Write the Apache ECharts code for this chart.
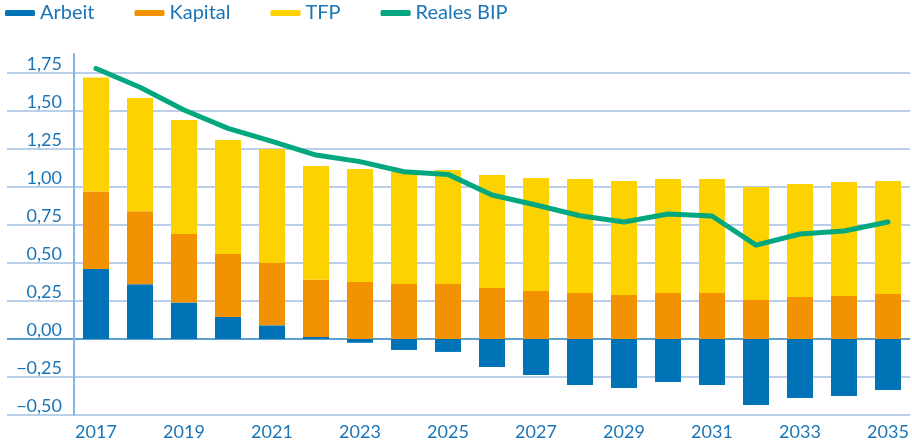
<!DOCTYPE html>
<html>
<head>
    <meta charset="utf-8">
    <script src="https://cdn.jsdelivr.net/npm/echarts@6/dist/echarts.min.js"></script>
    <style>
        html, body { margin: 0; padding: 0; background: #fff; }
        #chart { width: 912px; height: 443px; }
    </style>
</head>
<body>
<div id="chart"></div>
<script type="text/javascript">
    var years = ['2017', '2018', '2019', '2020', '2021', '2022', '2023', '2024', '2025', '2026',
                 '2027', '2028', '2029', '2030', '2031', '2032', '2033', '2034', '2035'];
    var arbeit  = [0.46, 0.36, 0.24, 0.145, 0.09, 0.013, -0.025, -0.072, -0.085, -0.184,
                   -0.237, -0.303, -0.322, -0.283, -0.303, -0.434, -0.388, -0.375, -0.336];
    var kapital = [0.51, 0.48, 0.45, 0.415, 0.41, 0.377, 0.375, 0.362, 0.362, 0.336,
                   0.316, 0.303, 0.29, 0.303, 0.303, 0.257, 0.276, 0.283, 0.296];
    var tfp     = [0.75, 0.745, 0.75, 0.75, 0.75, 0.748, 0.743, 0.737, 0.75, 0.743,
                   0.743, 0.75, 0.75, 0.75, 0.75, 0.743, 0.744, 0.75, 0.744];
    var bip     = [1.78, 1.656, 1.507, 1.386, 1.30, 1.21, 1.167, 1.10, 1.083, 0.947,
                   0.882, 0.811, 0.77, 0.822, 0.809, 0.618, 0.691, 0.711, 0.77];

    var textBlue = '#1a75b8';
    var font = 'Lato';
    var gridC = '#bccfea';
    // one colour per split line, bottom to top; the last one is the hidden top edge
    var splitColors = [gridC, gridC, '#5f9fd0', gridC, gridC, gridC, gridC, gridC, gridC, gridC, 'rgba(0,0,0,0)'];

    var fmt = function (v) {
        if (v > 1.8) return '';
        var s = Math.abs(v).toFixed(2).replace('.', ',');
        return (v < 0 ? '\u2212' : '') + s;
    };

    var chart = echarts.init(document.getElementById('chart'));
    chart.setOption({
        animation: false,
        color: ['#0073b7', '#f39200', '#fcd200', '#00a77f'],
        legend: {
            left: 5, top: 3, padding: 0,
            icon: 'roundRect', itemWidth: 30, itemHeight: 6, itemGap: 40,
            textStyle: { color: textBlue, fontSize: 20, fontFamily: font },
            data: ['Arbeit', 'Kapital', 'TFP', 'Reales BIP']
        },
        grid: [
            { left: 7, right: 2, top: 54, bottom: 28 },
            { left: 74, right: 2, top: 54, bottom: 28 }
        ],
        xAxis: [
            { gridIndex: 0, type: 'value', show: false },
            {
                gridIndex: 1, type: 'category', data: years, position: 'bottom',
                axisLine: { show: false, onZero: false }, axisTick: { show: false },
                axisLabel: { interval: 1, margin: 8, color: textBlue, fontSize: 18, fontFamily: font }
            }
        ],
        yAxis: [
            {
                gridIndex: 0, type: 'value', min: -0.5, max: 1.875, interval: 0.25,
                axisLabel: { show: false }, axisLine: { show: false }, axisTick: { show: false },
                splitLine: { lineStyle: { color: splitColors, width: 2 } }
            },
            {
                gridIndex: 1, type: 'value', min: -0.5, max: 1.875, interval: 0.25,
                axisLine: { show: true, lineStyle: { color: '#86b6e0', width: 2 } },
                axisTick: { show: false }, splitLine: { show: false },
                axisLabel: {
                    margin: 12, verticalAlign: 'bottom', color: textBlue,
                    fontSize: 18, fontFamily: font, formatter: fmt
                }
            }
        ],
        series: [
            { name: 'Arbeit', type: 'bar', stack: 'a', barWidth: 26, xAxisIndex: 1, yAxisIndex: 1, data: arbeit },
            { name: 'Kapital', type: 'bar', stack: 'a', barWidth: 26, xAxisIndex: 1, yAxisIndex: 1, data: kapital },
            { name: 'TFP', type: 'bar', stack: 'a', barWidth: 26, xAxisIndex: 1, yAxisIndex: 1, data: tfp },
            {
                name: 'Reales BIP', type: 'line', xAxisIndex: 1, yAxisIndex: 1, data: bip,
                symbol: 'none', clip: false,
                lineStyle: { width: 5, cap: 'round', join: 'round' }
            }
        ]
    });
</script>
</body>
</html>
